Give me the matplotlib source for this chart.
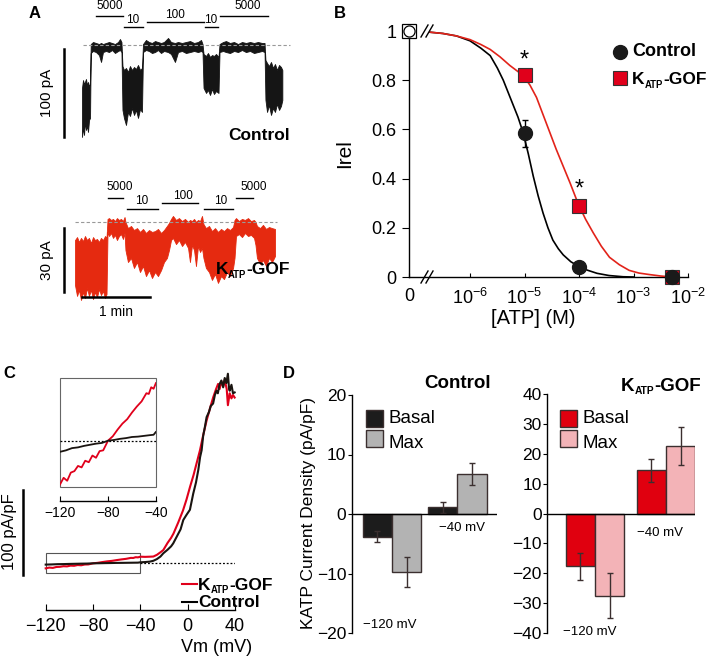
import numpy as np
import matplotlib.pyplot as plt
from matplotlib.patches import Rectangle

plt.rcParams['font.family'] = ['Liberation Sans', 'DejaVu Sans']
plt.rcParams['mathtext.fontset'] = 'custom'
plt.rcParams['mathtext.rm'] = 'Liberation Sans'
plt.rcParams['mathtext.it'] = 'Liberation Sans:italic'
plt.rcParams['mathtext.bf'] = 'Liberation Sans:bold'
plt.rcParams['axes.linewidth'] = 1.0

# ---------------- data ----------------
# A: patch-clamp traces, envelope (upper / lower) of the noisy current, time in s, current in pA
ctrl_t = [0, 0.9, 1.8, 2.6, 3.5, 4.4, 5.3, 6.2, 7.1, 7.7, 9.7, 12.3, 15, 16.8, 18.5, 21.2, 23.8,
          26.5, 29.1, 31.8, 33.5, 34.8, 35.7, 37, 38.8, 40.6, 42.3, 44.1, 45.9, 47.6, 49.4, 51.2,
          52.9, 53.8, 56.4, 59.1, 61.7, 64.4, 67, 69.7, 72.3, 75.9, 78.5, 82, 84.7, 88.2, 91.7,
          95.3, 98.8, 102.3, 105, 106.3, 107.2, 109.4, 111.1, 112.9, 114.7, 116.4, 118.2, 120.4,
          121.3, 124.4, 127, 130.5, 134.1, 137.6, 141.1, 144.6, 148.2, 151.7, 155.2, 158.8, 161,
          161.8, 163.2, 164.9, 166.7, 168.5, 170.2, 172, 173.8, 175.5, 176.7]
ctrl_hi = [-48.8, -39.8, -44.3, -42, -38.6, -45.4, -42, -46.6, -44.3,
           1.1, 3.4, 2.3, 1.1, 2.3, 1.1, 2.3, 3.4, 2.3, 1.1, 3.4, 6.8, 3.4,
           -23.9, -28.4, -26.1, -30.7, -23.9, -28.4, -25, -27.3, -22.7, -28.4, -26.1,
           1.1, 5.7, 3.4, 2.3, 4.5, 3.4, 2.3, 3.4, 8, 3.4, 2.3, 3.4, 2.3, 3.4, 4.5, 2.3, 3.4, 5.7, 1.1,
           -10.2, -12.5, -9.1, -13.6, -11.4, -12.5, -10.2, -13.6,
           1.1, 3.4, 4.5, 2.3, 3.4, 1.1, 3.4, 2.3, 3.4, 2.3, 3.4, 2.3, 2.3,
           -17, -20.4, -23.9, -19.3, -26.1, -21.6, -28.4, -22.7, -25, -28.4]
ctrl_lo = [-104.5, -94.3, -102.2, -87.5, -96.6, -92, -98.8, -85.2, -82.9,
           -9.1, -6.8, -8, -11.4, -19.3, -8, -6.8, -8, -5.7, -9.1, -6.8, -5.7, -8,
           -73.8, -82.9, -90.9, -76.1, -80.7, -71.6, -79.5, -73.8, -82.9, -72.7, -76.1,
           -8, -5.7, -6.8, -9.1, -8, -5.7, -9.1, -6.8, -8, -10.2, -19.3, -8, -6.8, -9.1, -8, -6.8, -8, -6.8, -8,
           -48.8, -54.5, -51.1, -56.8, -50, -55.7, -52.3, -54.5,
           -8, -6.8, -8, -9.1, -6.8, -8, -5.7, -8, -6.8, -9.1, -8, -6.8, -8,
           -62.5, -76.1, -68.2, -79.5, -71.6, -76.1, -67, -73.8, -69.3, -62.5]

gof_t = [0, 1.8, 3.5, 5.3, 7.1, 8.8, 10.6, 12.3, 14.1, 15.9, 17.6, 19.4, 21.2, 22.9, 24.7, 26.5, 27.8,
         28.7, 30, 31.8, 33.5, 35.3, 37, 38.8, 40.6, 42.3, 43.7,
         44.5, 46.7, 49.4, 52, 54.7, 57.3, 60, 62.6, 65.3, 67.9, 70.6, 73.2, 75.9, 78.5, 81.1, 82.9,
         84.7, 86.4, 89.1, 91.7, 94.4, 97, 99.7, 101.4, 103.2, 105, 106.7, 108.5, 110.3, 112,
         113.3, 115.5, 118.2, 120.8, 123.5, 126.1, 128.8, 131.4, 134.1, 136.7, 139.4,
         140.7, 142, 144.6, 147.3, 149.9, 152.6, 155.2, 157.9,
         159.2, 160.5, 163.2, 165.8, 168.5, 171.1, 173.8, 176.4]
gof_hi = [-8.6, -7.2, -9.5, -7.6, -9.1, -6.7, -8.6, -7.6, -10, -7.2, -8.6, -8.1, -9.5, -7.6, -8.6, -6.7, -7.6,
          1.3, 1.7, 0.8, 1.3, 0.3, 1.7, 0.8, 1.3, 0.3, 2.2,
          -0.1, -3.0, -2.0, -3.9, -3.0, -4.8, -3.4, -5.3, -3.9, -4.8, -4.4, -3.4, -5.3, -3.9, -2.0, -0.6,
          1.3, 2.7, 0.8, 1.7, 0.3, 1.3, -0.1, 0.8, 0.3, 1.3, -0.1, 0.8, 0.3, 2.7,
          -1.1, -3.0, -2.0, -4.4, -3.0, -4.8, -3.4, -4.4, -3.0, -3.9, -2.5,
          0.8, 1.7, 0.3, 1.3, 0.8, 1.7, 0.3, 0.8,
          -0.1, -2.0, -3.0, -1.5, -3.4, -2.5, -3.0, -3.4]
gof_lo = [-29.7, -34.8, -32, -36.7, -33, -35.8, -31.1, -34.8, -32, -36.3, -33, -35.3, -31.6, -34.4, -32.5, -35.8, -33.9,
          -4.8, -6.7, -5.3, -7.6, -6.2, -8.6, -6.7, -5.8, -8.1, -5.3,
          -13.3, -18.9, -17, -21.7, -18.9, -23.6, -20.8, -25.5, -22.7, -26.4, -23.6, -25.5, -22.7, -18.9, -17, -13.3,
          -8.6, -7.6, -10.5, -8.6, -11.4, -9.5, -12.3, -18.9, -10.9, -13.3, -20.8, -11.4, -14.2, -12.3,
          -17, -21.7, -23.6, -27.3, -24.5, -28.7, -25.5, -26.9, -23.6, -25.5, -21.7,
          -17, -6.7, -5.8, -7.2, -5.3, -6.7, -6.2, -7.6,
          -10.9, -17, -19.8, -18, -20.8, -17, -18.9, -16.1]

# ATP applications (uM) and their timing (s)
ctrl_sol = ['5000', '10', '100', '10', '5000']
ctrl_sol_on = [12.3, 37, 57.3, 108.5, 121.7]
ctrl_sol_off = [36.2, 53.8, 107.6, 120, 164]
gof_sol = ['5000', '10', '100', '10', '5000']
gof_sol_on = [29.1, 45.9, 76.7, 113.8, 142]
gof_sol_off = [42.3, 73.2, 108.5, 139.4, 157]

# B: ATP dose response
atp = [0, 1e-5, 1e-4, 5e-3]
ctrl_irel = [1.0, 0.585, 0.04, 0.0]
ctrl_sem = [0.0, 0.055, 0.0, 0.0]
gof_irel = [1.0, 0.82, 0.29, 0.0]
fit_ctrl_logx = [-6.73, -6.5, -6.25, -6.0, -5.8, -5.63, -5.5, -5.39, -5.3, -5.21, -5.12, -5.03, -4.93,
                 -4.84, -4.75, -4.66, -4.57, -4.48, -4.38, -4.29, -4.15, -4.02, -3.85, -3.67, -3.45, -3.19, -3.0]
fit_ctrl_y = [0.995, 0.99, 0.98, 0.96, 0.93, 0.9, 0.85, 0.8, 0.75, 0.7, 0.65, 0.59, 0.5,
              0.41, 0.33, 0.26, 0.2, 0.15, 0.115, 0.09, 0.062, 0.045, 0.028, 0.015, 0.006, 0.001, 0.0]
fit_gof_logx = [-6.73, -6.5, -6.25, -6.0, -5.8, -5.63, -5.45, -5.27, -5.15, -5.03, -4.9, -4.78, -4.66,
                -4.54, -4.42, -4.29, -4.16, -4.02, -3.88, -3.74, -3.59, -3.44, -3.26, -3.08, -2.9,
                -2.71, -2.5, -2.3]
fit_gof_y = [0.995, 0.99, 0.98, 0.965, 0.945, 0.925, 0.895, 0.86, 0.84, 0.82, 0.78, 0.73, 0.66,
             0.59, 0.52, 0.45, 0.38, 0.30, 0.235, 0.18, 0.125, 0.08, 0.05, 0.027, 0.016,
             0.01, 0.004, 0.0]

# C: I-V relations (pA/pF)
iv_gof_v = [-120, -117, -114, -111, -108, -105, -102, -99, -96, -93, -90, -87, -84,
            -80, -76, -72, -68, -64, -60, -56, -52, -48, -46, -44, -42, -40,
            -36, -32, -29, -26, -23, -20.6, -17, -14, -12, -8, -4, -1,
            2, 5, 7.6, 10.4, 13, 16, 19, 21.5, 24, 25.7, 27, 28.5, 30, 31.3, 33, 34, 35.5, 37, 38.3, 39.7]
iv_gof_i = [-5.9, -5.0, -5.4, -4.3, -4.1, -3.4, -3.6, -2.7, -2.9, -2.0, -2.3, -1.4, -1.3,
            0, 0.6, 1.5, 2.3, 2.9, 3.8, 4.6, 5.3, 6.4, 6.3, 7.2, 7.0, 7.8,
            7.6, 7.8, 8, 10, 13, 15.6, 24, 30, 35, 48, 62, 75,
            90, 104, 118, 133, 150, 168, 183, 195, 205, 211, 205, 214, 208, 216, 205, 186, 200, 194, 198, 195]
iv_ctrl_v = [-120, -115, -110, -105, -100, -95, -90, -85, -80, -75, -70, -65, -60, -55, -50, -45, -42, -40,
             -36, -32, -29, -26, -23, -20.6, -17, -14, -12.2, -9, -6, -3.7, -1,
             1.9, 4.7, 7, 9, 10.5, 11.8, 13.1, 14.5, 16, 18, 19.5, 21.5, 23, 24.3, 25.5, 27, 28.5,
             30, 31.3, 32.7, 34, 35, 35.5, 37, 38.3, 39.7]
iv_ctrl_i = [-1.5, -1.3, -1.0, -0.9, -0.7, -0.55, -0.4, -0.3, 0, 0.1, 0.25, 0.35, 0.5, 0.55, 0.65, 0.75, 0.8, 1.2,
             1.5, 2, 3, 5, 8, 11.8, 16, 20, 23.5, 32, 40, 51, 57,
             63, 82, 95, 110, 125, 133, 150, 160, 172, 178, 185, 188, 198, 203, 200, 211, 215,
             207, 218, 212, 223, 205, 203, 210, 200, 201]

# D: KATP current density (pA/pF) at -120 and -40 mV
vm_groups = ['\u2212120 mV', '\u221240 mV']
d_ctrl_basal = [-3.8, 1.1]
d_ctrl_basal_err = [0.9, 1.0]
d_ctrl_max = [-9.8, 6.7]
d_ctrl_max_err = [2.5, 1.9]
d_gof_basal = [-17.7, 14.4]
d_gof_basal_err = [4.5, 3.9]
d_gof_max = [-27.5, 22.6]
d_gof_max_err = [7.5, 6.4]

# ---------------- figure ----------------
W, H = 709, 657
fig = plt.figure(figsize=(W / 100, H / 100), dpi=100)


def px_axes(l, t, r, b):
    return fig.add_axes([l / W, 1 - b / H, (r - l) / W, (b - t) / H])


RED_A = '#E52A10'
RED = '#E0001B'
EDGE = '#3B2F2F'

# ---- A: control trace
a1 = px_axes(82, 45, 282, 133)
a1.set_xlim(0, 176.4)
a1.set_ylim(-100, 0)
a1.axis('off')
a1.fill_between(ctrl_t, ctrl_lo, ctrl_hi, color='#151515', lw=0.6, clip_on=False)
a1.plot([0.9, 183.5], [0, 0], ls=(0, (3, 2)), color='#999999', lw=0.8, clip_on=False)
a1.plot([-15.9, -15.9], [-4.5, -104.5], color='k', lw=1.8, clip_on=False)
ctrl_bar_y = [33, 20.4, 26, 20.4, 33]
ctrl_txt_x = [24.7, 45, 82, 113.8, 146.4]
ctrl_txt_y = [44.3, 28.4, 34.1, 28.4, 44.3]
for lab, t0, t1, by, tx, ty in zip(ctrl_sol, ctrl_sol_on, ctrl_sol_off, ctrl_bar_y, ctrl_txt_x, ctrl_txt_y):
    a1.plot([t0, t1], [by, by], color='k', lw=1, clip_on=False)
    a1.text(tx, ty, lab, ha='center', va='center', fontsize=8.5)

# ---- A: KATP-GOF trace
a2 = px_axes(75, 221.7, 275, 285.7)
a2.set_xlim(0, 176.4)
a2.set_ylim(-30, 0)
a2.axis('off')
a2.fill_between(gof_t, gof_lo, gof_hi, color=RED_A, lw=0.6, clip_on=False)
a2.plot([0, 178], [0, 0], ls=(0, (3, 2)), color='#999999', lw=0.8, clip_on=False)
a2.plot([-9.7, -9.7], [-3, -33], color='k', lw=1.8, clip_on=False)
a2.plot([6.2, 66.2], [-35.3, -35.3], color='k', lw=1.8, clip_on=False)
a2.text(36.2, -42.3, '1 min', ha='center', va='center', fontsize=10)
gof_bar_y = [11.1, 6.0, 8.8, 6.0, 11.1]
gof_txt_x = [39.7, 59.1, 95.3, 128.8, 157.9]
gof_txt_y = [16.3, 9.7, 12.1, 9.7, 16.3]
for lab, t0, t1, by, tx, ty in zip(gof_sol, gof_sol_on, gof_sol_off, gof_bar_y, gof_txt_x, gof_txt_y):
    a2.plot([t0, t1], [by, by], color='k', lw=1, clip_on=False)
    a2.text(tx, ty, lab, ha='center', va='center', fontsize=8.5)

# ---- B: dose response
ZERO_X = 10 ** -7.12
b = px_axes(409, 31, 688, 277)
b.set_xscale('log')
b.set_xlim(ZERO_X, 1e-2)
b.set_ylim(0, 1)
for s in ['top', 'right']:
    b.spines[s].set_visible(False)
b.plot([10 ** v for v in fit_ctrl_logx], fit_ctrl_y, color='k', lw=1.2, zorder=3)
b.plot([10 ** v for v in fit_gof_logx], fit_gof_y, color='#E2231A', lw=1.2, zorder=3)
xpos = [ZERO_X] + atp[1:]
b.errorbar(xpos[1:], ctrl_irel[1:], yerr=ctrl_sem[1:], fmt='none', ecolor='k', elinewidth=1,
           capsize=2.5, zorder=4, clip_on=False)
b.plot(xpos[1:], gof_irel[1:], 's', ms=10, mfc=RED, mec='#333333', mew=0.8, zorder=5, clip_on=False)
b.plot(xpos[1:], ctrl_irel[1:], 'o', ms=10, mfc='#1a1a1a', mec='#1a1a1a', zorder=6, clip_on=False)
b.plot(xpos[:1], gof_irel[:1], 's', ms=10, mfc='white', mec='k', mew=0.9, zorder=7, clip_on=False)
b.plot(xpos[:1], ctrl_irel[:1], 'o', ms=8, mfc='white', mec='k', mew=0.9, zorder=8, clip_on=False)
b.set_xticks([ZERO_X, 1e-6, 1e-5, 1e-4, 1e-3, 1e-2])
b.set_xticklabels(['0', '$10^{-6}$', '$10^{-5}$', '$10^{-4}$', '$10^{-3}$', '$10^{-2}$'])
b.minorticks_off()
b.set_yticks([0, 0.2, 0.4, 0.6, 0.8, 1])
b.set_yticklabels(['0', '0.2', '0.4', '0.6', '0.8', '1'])
b.tick_params(axis='y', direction='out', length=5, labelsize=13, pad=4)
b.tick_params(axis='x', direction='in', length=3, labelsize=13, pad=8)
b.text(1e-5, 0.88, '*', ha='center', va='center', fontsize=17)
b.text(1e-4, 0.355, '*', ha='center', va='center', fontsize=17)

# ---- C: I-V
c = px_axes(45.7, 370, 235, 610)
c.set_xlim(-120, 40)
c.set_ylim(-54.9, 227.4)
for s in ['top', 'right', 'left']:
    c.spines[s].set_visible(False)
c.set_yticks([])
c.set_xticks([-120, -80, -40, 0, 40])
c.set_xticklabels(['\u2212120', '\u221280', '\u221240', '0', '40'])
c.tick_params(axis='x', direction='in', length=4, labelsize=13, pad=6)
c.plot([-40, 40], [0, 0], ls=(0, (1.5, 1.5)), color='k', lw=0.9)
c.plot(iv_gof_v, iv_gof_i, color=RED, lw=1.5, clip_on=False)
c.plot(iv_ctrl_v, iv_ctrl_i, color='#1a1410', lw=1.5, clip_on=False)
c.add_patch(Rectangle((-120, -11.8), 80, 23.6, fill=False, ec='#555555', lw=0.8, clip_on=False))
c.plot([-139.2, -139.2], [-13.8, 86.2], color='k', lw=1.8, clip_on=False)
c.plot([-4.8, 7.9], [-24.7, -24.7], color=RED, lw=1.5, clip_on=False)
c.plot([-4.8, 7.9], [-45.6, -45.6], color='k', lw=1.5, clip_on=False)

ci = px_axes(60, 378, 156, 487)
ci.set_xlim(-120, -40)
ci.set_ylim(-6.24, 8.45)
for s in ['top', 'right', 'left']:
    ci.spines[s].set_visible(False)
ci.spines['bottom'].set_position(('outward', 10))
ci.add_patch(Rectangle((0, 0), 1, 1, transform=ci.transAxes, fill=False, ec='#666666', lw=0.8, clip_on=False))
ci.set_yticks([])
ci.set_xticks([-120, -80, -40])
ci.set_xticklabels(['\u2212120', '\u221280', '\u221240'])
ci.tick_params(axis='x', direction='in', length=3.5, labelsize=10, pad=4)
ci.axhline(0, ls=(0, (1.5, 1.5)), color='k', lw=0.9)
ci.plot(iv_gof_v, iv_gof_i, color=RED, lw=1.3)
ci.plot(iv_ctrl_v, iv_ctrl_i, color='#1a1410', lw=1.3)

# ---- D: current density bars
def bar_panel(rect, xlim, ylim, yticks, w, basal, basal_err, mx, mx_err, c_basal, c_max):
    ax = px_axes(*rect)
    ax.set_xlim(*xlim)
    ax.set_ylim(*ylim)
    for s in ['top', 'right', 'bottom']:
        ax.spines[s].set_visible(False)
    ax.set_xticks([])
    ax.set_yticks(yticks)
    ax.set_yticklabels([('\u2212%d' % -v) if v < 0 else '%d' % v for v in yticks])
    ax.tick_params(axis='y', direction='out', length=3, labelsize=12.5, pad=1)
    g = np.arange(len(basal))
    ax.bar(g - w / 2, basal, w, color=c_basal, edgecolor=EDGE, lw=1, zorder=2)
    ax.bar(g + w / 2, mx, w, color=c_max, edgecolor=EDGE, lw=1, zorder=2)
    ax.errorbar(g - w / 2, basal, yerr=basal_err, fmt='none', ecolor=EDGE, elinewidth=1, capsize=2, zorder=3)
    ax.errorbar(g + w / 2, mx, yerr=mx_err, fmt='none', ecolor=EDGE, elinewidth=1, capsize=2, zorder=3)
    ax.axhline(0, color='k', lw=1, zorder=4)
    return ax


d1 = bar_panel((351.7, 395, 496.7, 633), (-0.615, 1.6), (-20, 20), [-20, -10, 0, 10, 20], 0.45,
               d_ctrl_basal, d_ctrl_basal_err, d_ctrl_max, d_ctrl_max_err, '#1C1C1C', '#B3B3B3')
d1.text(-0.03, -18.7, vm_groups[0], ha='center', va='center', fontsize=9.5)
d1.text(1.07, -2.35, vm_groups[1], ha='center', va='center', fontsize=9.5)
d2 = bar_panel((547.3, 394, 695, 633), (-0.672, 1.408), (-40, 40), [-40, -30, -20, -10, 0, 10, 20, 30, 40],
               0.415, d_gof_basal, d_gof_basal_err, d_gof_max, d_gof_max_err, '#E0000F', '#F3B3B7')
d2.text(-0.07, -39.6, vm_groups[0], ha='center', va='center', fontsize=9.5)
d2.text(0.915, -6.4, vm_groups[1], ha='center', va='center', fontsize=9.5)

# ---- overlay for labels in pixel coordinates
ov = fig.add_axes([0, 0, 1, 1])
ov.set_xlim(0, W)
ov.set_ylim(H, 0)
ov.axis('off')
renderer = fig.canvas.get_renderer()


def katp(x, y, size, ha='left'):
    # "K" + small subscript "ATP" + "-GOF", placed piece by piece
    px = size * 100 / 72
    base = y + 0.36 * px
    spec = [('K', size, 0), ('ATP', size * 0.55, 0.2 * px), ('-GOF', size, 0)]
    arts = [ov.text(0, base + dy, s, fontsize=fs, fontweight='bold', va='baseline', ha='left')
            for s, fs, dy in spec]
    ws = [a.get_window_extent(renderer).width for a in arts]
    x0 = x - sum(ws) if ha == 'right' else x
    for a, w in zip(arts, ws):
        a.set_x(x0)
        x0 += w


for lab, x, y in [('A', 35, 14), ('B', 340, 13), ('C', 9, 373), ('D', 289, 373)]:
    ov.text(x, y, lab, ha='center', va='center', fontsize=12, fontweight='bold')

ov.text(47, 93, '100 pA', rotation=90, ha='center', va='center', fontsize=11)
ov.text(47, 260, '30 pA', rotation=90, ha='center', va='center', fontsize=11)
ov.text(290, 136, 'Control', ha='right', va='center', fontsize=12.5, fontweight='bold')
katp(290, 268, 12.5, ha='right')

# B labels / legend
ov.text(345, 154, 'Irel', rotation=90, ha='center', va='center', fontsize=15)
ov.text(533, 318, '[ATP] (M)', ha='center', va='center', fontsize=14.5)
ov.plot([620], [52], 'o', ms=10, color='#1a1a1a')
ov.text(632, 52, 'Control', ha='left', va='center', fontsize=13, fontweight='bold')
ov.plot([620], [78], 's', ms=10, mfc=RED, mec='#333333', mew=0.8)
katp(632, 78, 12.5)
for y0 in (31, 277):
    for dx in (0, 5):
        ov.plot([421 + dx, 428 + dx], [y0 + 6, y0 - 6], color='k', lw=1)

# C labels / legend
ov.text(10, 532, '100 pA/pF', rotation=90, ha='center', va='center', fontsize=12)
katp(198, 583.5, 12.5)
ov.text(198, 602.5, 'Control', ha='left', va='center', fontsize=12.5, fontweight='bold')
ov.text(217, 648, 'Vm (mV)', ha='center', va='center', fontsize=13)

# D labels / legends
ov.text(308, 513, 'KATP Current Density (pA/pF)', rotation=90, ha='center', va='center', fontsize=12.5)
ov.text(491, 384, 'Control', ha='right', va='center', fontsize=13.5, fontweight='bold')
katp(701, 384, 13.5, ha='right')
for x0, cb, cm in [(366, '#1C1C1C', '#B3B3B3'), (560, '#E0000F', '#F3B3B7')]:
    ov.add_patch(Rectangle((x0, 410), 17, 17, fc=cb, ec=EDGE, lw=1))
    ov.add_patch(Rectangle((x0, 430), 17, 17, fc=cm, ec=EDGE, lw=1))
    ov.text(x0 + 23, 418.5, 'Basal', ha='left', va='center', fontsize=13.5)
    ov.text(x0 + 23, 443, 'Max', ha='left', va='center', fontsize=13.5)

fig.savefig('out.png', dpi=100)
